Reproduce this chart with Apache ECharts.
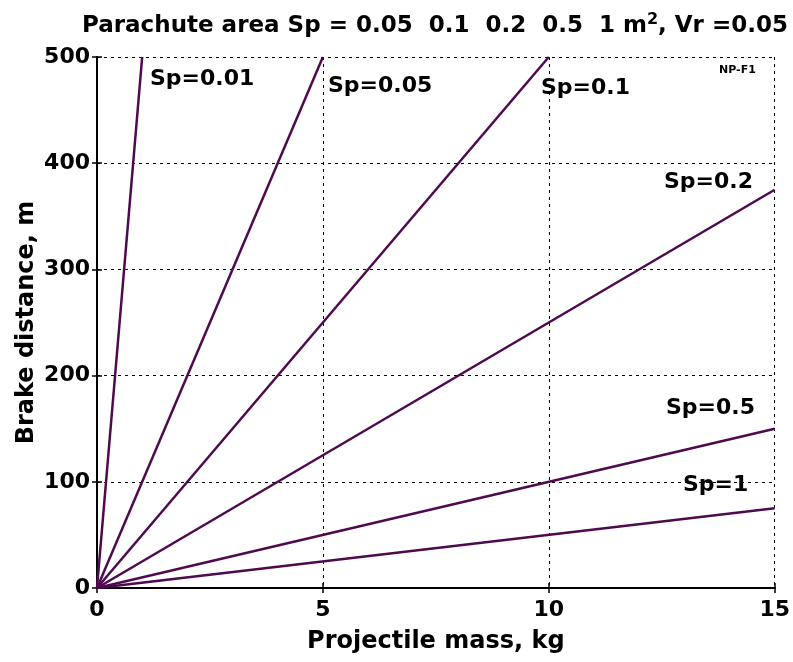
<!DOCTYPE html>
<html><head><meta charset="utf-8">
<script src="https://cdn.jsdelivr.net/npm/echarts@6/dist/echarts.min.js"></script>
<style>html,body{margin:0;padding:0;background:#fff}#c{width:793px;height:662px}</style>
</head><body><div id="c"></div>
<script>
const xTicks = [0, 5, 10, 15];
const yTicks = [0, 100, 200, 300, 400, 500];
const seriesNames = ['Sp=0.01', 'Sp=0.05', 'Sp=0.1', 'Sp=0.2', 'Sp=0.5', 'Sp=1'];
const sp001 = [[0, 0], [1, 500]];
const sp005 = [[0, 0], [5, 500]];
const sp01 = [[0, 0], [10, 500]];
const sp02 = [[0, 0], [15, 375]];
const sp05 = [[0, 0], [15, 150]];
const sp1 = [[0, 0], [15, 75]];
const seriesData = [sp001, sp005, sp01, sp02, sp05, sp1];

const FONT = '"DejaVu Sans", Verdana, sans-serif';
const LINE = '#4e0a4e';
const chart = echarts.init(document.getElementById('c'));
const labelPos = [[150, 81], [328, 88], [541, 90], [664, 184], [666, 410], [683, 487]];
const graphics = seriesNames.map((n, i) => ({
  type: 'text', left: labelPos[i][0], top: labelPos[i][1] - 13, z: 100,
  style: { text: n, fill: '#000', font: 'bold 22px ' + FONT }
}));
graphics.push({ type: 'text', left: 719, top: 65, z: 100,
  style: { text: 'NP-F1', fill: '#000', font: 'bold 11px ' + FONT } });

const tickCommon = { show: true, inside: true, length: 5, lineStyle: { color: '#000', width: 1.5 } };
chart.setOption({
  animation: false,
  title: {
    text: 'Parachute area Sp = 0.05  0.1  0.2  0.5  1 m{s|2}, Vr =0.05',
    left: 77, top: 7,
    textStyle: { fontFamily: FONT, fontWeight: 'bold', fontSize: 23, color: '#000',
      rich: { s: { fontSize: 16, fontWeight: 'bold', fontFamily: FONT, verticalAlign: 'top', padding: [0, 0, 12, 0] } } }
  },
  grid: { left: 97, right: 16, top: 57, bottom: 74 },
  xAxis: [{
    type: 'value', min: 0, max: 15, interval: 5, position: 'bottom',
    name: 'Projectile mass, kg', nameLocation: 'middle', nameGap: 42, nameMoveOverlap: false,
    nameTextStyle: { fontFamily: FONT, fontWeight: 'bold', fontSize: 24, color: '#000' },
    axisLine: { show: true, lineStyle: { color: '#000', width: 2 } },
    axisTick: tickCommon,
    axisLabel: { fontFamily: FONT, fontWeight: 'bold', fontSize: 22, color: '#000', margin: 11,
      formatter: v => xTicks.includes(v) ? String(v) : '' },
    splitLine: { show: true, lineStyle: { color: '#000', type: [3, 4], width: 1 } }
  }, {
    type: 'value', min: 0, max: 15, interval: 5, position: 'top',
    axisLine: { show: true, lineStyle: { color: '#000', width: 2 } },
    axisTick: tickCommon, axisLabel: { show: false }, splitLine: { show: false }
  }],
  yAxis: [{
    type: 'value', min: 0, max: 500, interval: 100, position: 'left',
    name: 'Brake distance, m', nameLocation: 'middle', nameGap: 58, nameMoveOverlap: false,
    nameTextStyle: { fontFamily: FONT, fontWeight: 'bold', fontSize: 24, color: '#000' },
    axisLine: { show: true, lineStyle: { color: '#000', width: 2 } },
    axisTick: tickCommon,
    axisLabel: { fontFamily: FONT, fontWeight: 'bold', fontSize: 22, color: '#000', margin: 7,
      formatter: v => yTicks.includes(v) ? String(v) : '' },
    splitLine: { show: true, lineStyle: { color: '#000', type: [3, 4], width: 1 } }
  }, {
    type: 'value', min: 0, max: 500, interval: 100, position: 'right',
    axisLine: { show: true, lineStyle: { color: '#000', width: 2 } },
    axisTick: tickCommon, axisLabel: { show: false }, splitLine: { show: false }
  }],
  graphic: graphics,
  series: seriesData.map((d, i) => ({
    type: 'line', name: seriesNames[i], data: d, xAxisIndex: 0, yAxisIndex: 0,
    showSymbol: false, symbol: 'none', clip: true,
    lineStyle: { color: LINE, width: 2.5 }, z: 5
  }))
});
</script></body></html>
